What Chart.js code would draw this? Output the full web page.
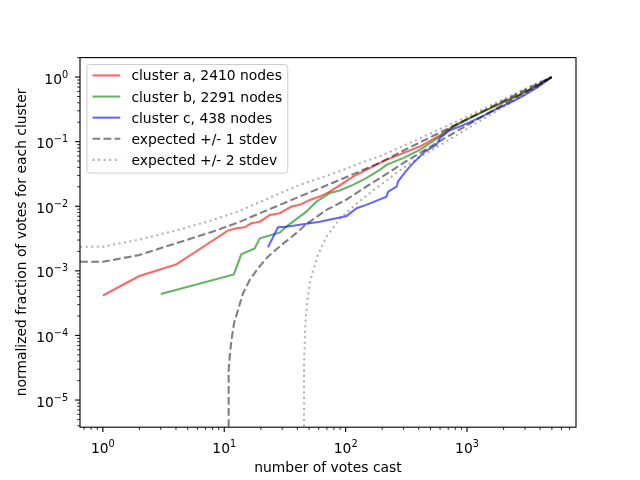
<!DOCTYPE html>
<html><head><meta charset="utf-8">
<script src="https://cdn.jsdelivr.net/npm/chart.js@4.4.1/dist/chart.umd.min.js"></script>
<style>html,body{margin:0;padding:0;background:#fff;}canvas{display:block;}</style>
</head><body>
<canvas id="c" width="640" height="480" style="width:640px;height:480px"></canvas>
<script>
// ---- data ----
const seriesLabels = ['cluster a, 2410 nodes','cluster b, 2291 nodes','cluster c, 438 nodes','expected +/- 1 stdev','expected +/- 2 stdev'];
const xAxisTitle = 'number of votes cast';
const yAxisTitle = 'normalized fraction of votes for each cluster';
const xTickExps = [0, 1, 2, 3];
const yTickExps = [0, -1, -2, -3, -4, -5];

const clusterA_x = [1, 2, 4, 10.7, 12.6, 14.7, 16.7, 19.6, 23.7, 28.6, 35.8, 41.8, 50.6, 61.2, 74, 95, 115, 148, 191, 217, 297, 408, 597, 768, 1054, 1449, 1985, 2723, 3741, 4973];
const clusterA_y = [4.15e-4, 8.3e-4, 1.25e-3, 4.2e-3, 4.56e-3, 4.72e-3, 5.45e-3, 5.77e-3, 7.3e-3, 7.8e-3, 9.9e-3, 1.05e-2, 1.25e-2, 1.41e-2, 1.68e-2, 2.27e-2, 2.88e-2, 3.66e-2, 4.65e-2, 5.22e-2, 6.64e-2, 8.4e-2, 0.125, 0.172, 0.233, 0.31, 0.41, 0.54, 0.73, 1.0];

const clusterB_x = [3, 12, 13.8, 17.8, 19.6, 24.4, 28.6, 32.5, 41.8, 47.5, 57.5, 74, 89.4, 115, 148, 191, 217, 297, 408, 597, 768, 1054, 1449, 1985, 2723, 3741, 4973];
const clusterB_y = [4.4e-4, 8.8e-4, 1.8e-3, 2.23e-3, 3.19e-3, 3.59e-3, 3.9e-3, 4.83e-3, 6.9e-3, 8.24e-3, 1.18e-2, 1.6e-2, 1.75e-2, 2.14e-2, 2.72e-2, 3.66e-2, 4.37e-2, 5.55e-2, 7.46e-2, 0.12, 0.17, 0.23, 0.307, 0.405, 0.535, 0.725, 1.0];

const clusterC_x = [22.9, 27.7, 32.5, 61.2, 102, 123, 148, 217, 224, 263, 270, 297, 338, 383, 422, 449, 561, 597, 721, 873, 1054, 1358, 1750, 2254, 2900, 3741, 4973];
const clusterC_y = [2.31e-3, 4.73e-3, 4.83e-3, 5.77e-3, 7.08e-3, 9.3e-3, 1.05e-2, 1.41e-2, 1.68e-2, 2.01e-2, 2.41e-2, 3.06e-2, 4.11e-2, 5.22e-2, 6.24e-2, 7.03e-2, 8.92e-2, 0.113, 0.15, 0.172, 0.2, 0.25, 0.32, 0.40, 0.51, 0.68, 1.0];

const expHi_x  = [0.65, 1, 2, 4, 8, 13, 20, 29, 42, 61, 90, 130, 190, 300, 560, 1050, 2000, 3700, 4973];
const exp1Hi_y = [1.38e-3, 1.38e-3, 1.76e-3, 2.67e-3, 4.04e-3, 5.6e-3, 7.9e-3, 1.06e-2, 1.42e-2, 1.9e-2, 2.57e-2, 3.45e-2, 4.7e-2, 7.3e-2, 0.13, 0.233, 0.43, 0.77, 1.0];
const exp2Hi_y = [2.36e-3, 2.36e-3, 3.05e-3, 4.2e-3, 6.1e-3, 8.3e-3, 1.18e-2, 1.6e-2, 2.15e-2, 2.72e-2, 3.5e-2, 4.6e-2, 5.9e-2, 8.65e-2, 0.148, 0.255, 0.455, 0.79, 1.0];

// lower bounds fall to (effectively) zero, far below the axis bottom
const exp1Lo_x = [10.87, 10.87, 11.08, 11.45, 12.03, 12.97, 14.26, 16.19, 18.95, 22.9, 29.6, 40.5, 47.5, 69.5, 101.6, 148, 191, 300, 560, 1050, 2000, 3700, 4973];
const exp1Lo_y = [1e-9, 2.9e-5, 4.66e-5, 8.45e-5, 1.53e-4, 2.47e-4, 4.48e-4, 7.2e-4, 1.09e-3, 1.66e-3, 2.51e-3, 4.04e-3, 5.3e-3, 8.77e-3, 1.27e-2, 2.01e-2, 2.72e-2, 4.7e-2, 9.5e-2, 0.189, 0.375, 0.72, 1.0];

const exp2Lo_x = [45.4, 45.4, 46.6, 48.4, 50.6, 53.9, 59, 65, 69.5, 89, 123, 168, 217, 280, 383, 560, 1050, 2000, 3700, 4973];
const exp2Lo_y = [1e-9, 3.7e-5, 1.53e-4, 3.5e-4, 6.4e-4, 1.03e-3, 1.75e-3, 2.6e-3, 3.4e-3, 6.3e-3, 1.1e-2, 1.75e-2, 2.5e-2, 3.6e-2, 5.4e-2, 8.1e-2, 0.167, 0.345, 0.68, 1.0];

// ---- styling ----
const FONT = '"DejaVu Sans"';
const FS = 13.89;
const colA = 'rgba(255,0,0,0.6)', colB = 'rgba(0,128,0,0.6)', colC = 'rgba(0,0,255,0.6)';
const colD1 = 'rgba(0,0,0,0.5)', colD2 = 'rgba(0,0,0,0.3)';
const dash1 = [7.7, 3.33], dash2 = [2.08, 3.44];
const LW = 2.08;

function pts(xs, ys) { return xs.map((x, i) => ({x: x, y: ys[i]})); }
function ds(label, xs, ys, color, dash, order) {
  return {label: label, data: pts(xs, ys), borderColor: color, borderWidth: LW, borderDash: dash,
    pointRadius: 0, tension: 0, fill: false, order: order, clip: 0, borderCapStyle: 'butt'};
}

const datasets = [
  ds(seriesLabels[0], clusterA_x, clusterA_y, colA, [], 7),
  ds(seriesLabels[1], clusterB_x, clusterB_y, colB, [], 6),
  ds(seriesLabels[2], clusterC_x, clusterC_y, colC, [], 5),
  ds(seriesLabels[3], expHi_x, exp1Hi_y, colD1, dash1, 4),
  ds(seriesLabels[3], exp1Lo_x, exp1Lo_y, colD1, dash1, 3),
  ds(seriesLabels[4], expHi_x, exp2Hi_y, colD2, dash2, 2),
  ds(seriesLabels[4], exp2Lo_x, exp2Lo_y, colD2, dash2, 1)
];
const legendItems = [
  {text: seriesLabels[0], color: colA, dash: []},
  {text: seriesLabels[1], color: colB, dash: []},
  {text: seriesLabels[2], color: colC, dash: []},
  {text: seriesLabels[3], color: colD1, dash: dash1},
  {text: seriesLabels[4], color: colD2, dash: dash2}
];

function drawPow(ctx, x, yBase, exp, align) {
  const sup = exp < 0 ? '\u2212' + (-exp) : String(exp);
  ctx.font = FS + 'px ' + FONT;
  const wb = ctx.measureText('10').width;
  ctx.font = (FS * 0.7) + 'px ' + FONT;
  const ws = ctx.measureText(sup).width;
  const w = wb + ws;
  const x0 = align === 'center' ? x - w / 2 : x - w;
  ctx.textAlign = 'left'; ctx.textBaseline = 'alphabetic'; ctx.fillStyle = '#000';
  ctx.font = FS + 'px ' + FONT;
  ctx.fillText('10', x0, yBase);
  ctx.font = (FS * 0.7) + 'px ' + FONT;
  ctx.fillText(sup, x0 + wb, yBase - 6);
}

function minorValues(min, max) {
  const out = [];
  for (let e = Math.floor(Math.log10(min)); e <= Math.ceil(Math.log10(max)); e++) {
    for (let m = 1; m <= 9; m++) {
      const v = m * Math.pow(10, e);
      if (v >= min && v <= max) out.push({v: v, major: m === 1});
    }
  }
  return out;
}

const mplPlugin = {
  id: 'mplAxes',
  afterDatasetsDraw(chart) {
    const ctx = chart.ctx, a = chart.chartArea, sx = chart.scales.x, sy = chart.scales.y;
    ctx.save();
    ctx.strokeStyle = '#000';
    ctx.setLineDash([]);
    minorValues(sx.min, sx.max).forEach(t => {
      const px = sx.getPixelForValue(t.v);
      ctx.lineWidth = t.major ? 1.11 : 0.83;
      ctx.beginPath(); ctx.moveTo(px, a.bottom); ctx.lineTo(px, a.bottom + (t.major ? 4.86 : 2.78)); ctx.stroke();
    });
    minorValues(sy.min, sy.max).forEach(t => {
      const py = sy.getPixelForValue(t.v);
      ctx.lineWidth = t.major ? 1.11 : 0.83;
      ctx.beginPath(); ctx.moveTo(a.left, py); ctx.lineTo(a.left - (t.major ? 4.86 : 2.78), py); ctx.stroke();
    });
    ctx.lineWidth = 1.11;
    ctx.strokeRect(a.left, a.top, a.right - a.left, a.bottom - a.top);
    xTickExps.forEach(e => drawPow(ctx, sx.getPixelForValue(Math.pow(10, e)), a.bottom + 25.5, e, 'center'));
    yTickExps.forEach(e => drawPow(ctx, a.left - 11.8, sy.getPixelForValue(Math.pow(10, e)) + 6.6, e, 'right'));
    ctx.font = FS + 'px ' + FONT;
    let maxW = 0;
    legendItems.forEach(it => { maxW = Math.max(maxW, ctx.measureText(it.text).width); });
    const bx = a.left + 6.95, by = a.top + 6.95;
    const bw = 5.56 + 27.78 + 11.1 + maxW + 5.56, bh = 108.5;
    const r = 2.78;
    ctx.beginPath();
    ctx.moveTo(bx + r, by); ctx.lineTo(bx + bw - r, by); ctx.arcTo(bx + bw, by, bx + bw, by + r, r);
    ctx.lineTo(bx + bw, by + bh - r); ctx.arcTo(bx + bw, by + bh, bx + bw - r, by + bh, r);
    ctx.lineTo(bx + r, by + bh); ctx.arcTo(bx, by + bh, bx, by + bh - r, r);
    ctx.lineTo(bx, by + r); ctx.arcTo(bx, by, bx + r, by, r); ctx.closePath();
    ctx.fillStyle = 'rgba(255,255,255,0.8)'; ctx.fill();
    ctx.strokeStyle = '#cccccc'; ctx.lineWidth = 1.0; ctx.stroke();
    legendItems.forEach((it, i) => {
      const hy = by + 10.9 + i * 21.1;
      ctx.strokeStyle = it.color; ctx.lineWidth = LW; ctx.setLineDash(it.dash); ctx.lineCap = 'butt';
      ctx.beginPath(); ctx.moveTo(bx + 5.56, hy); ctx.lineTo(bx + 5.56 + 27.78, hy); ctx.stroke();
      ctx.setLineDash([]);
      ctx.fillStyle = '#000'; ctx.textAlign = 'left'; ctx.textBaseline = 'alphabetic';
      ctx.fillText(it.text, bx + 5.56 + 27.78 + 11.1, hy + 5);
    });
    ctx.restore();
  }
};

new Chart(document.getElementById('c').getContext('2d'), {
  type: 'line',
  data: {datasets: datasets},
  options: {
    responsive: false, animation: false, devicePixelRatio: 1, events: [],
    layout: {padding: {left: 0, top: 57.6, right: 64, bottom: 0}},
    plugins: {legend: {display: false}, tooltip: {enabled: false}, title: {display: false}},
    scales: {
      x: {type: 'logarithmic', bounds: 'data', min: 0.648, max: 7900,
        grid: {display: false}, border: {display: false}, ticks: {display: false},
        title: {display: true, text: xAxisTitle, color: '#000', font: {family: 'DejaVu Sans', size: FS}, padding: {top: 0, bottom: 3.5}},
        afterFit: s => { s.height = 480 - 427.2; }},
      y: {type: 'logarithmic', bounds: 'data', min: 3.8e-6, max: 2.0,
        grid: {display: false}, border: {display: false}, ticks: {display: false},
        title: {display: true, text: yAxisTitle, color: '#000', font: {family: 'DejaVu Sans', size: FS}, padding: {top: 14.4, bottom: 0}},
        afterFit: s => { s.width = 80; }}
    }
  },
  plugins: [mplPlugin]
});
</script>
</body></html>
